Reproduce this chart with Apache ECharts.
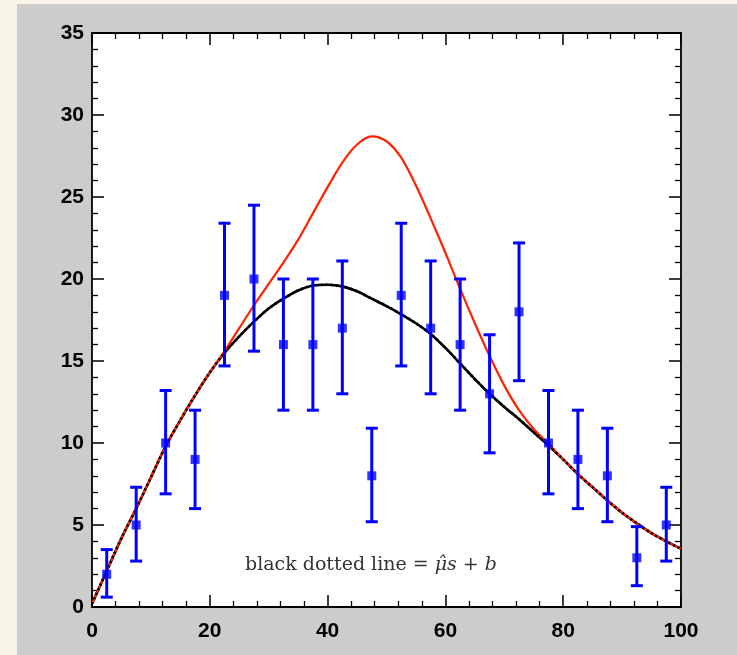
<!DOCTYPE html>
<html>
<head>
<meta charset="utf-8">
<script src="https://cdn.jsdelivr.net/npm/echarts@6/dist/echarts.min.js"></script>
<style>
  html, body { margin: 0; padding: 0; background: #f8f4e8; }
  #panel { position: absolute; left: 17px; top: 4px; width: 720px; height: 651px; background: #cccccc; }
  #chart { position: absolute; left: 0; top: 0; width: 737px; height: 655px; }
</style>
</head>
<body>
<div id="panel"></div>
<div id="chart"></div>
<script>
// ---- data ----
const binCenters = [2.5, 7.5, 12.5, 17.5, 22.5, 27.5, 32.5, 37.5, 42.5, 47.5, 52.5, 57.5, 62.5, 67.5, 72.5, 77.5, 82.5, 87.5, 92.5, 97.5];
const counts     = [2, 5, 10, 9, 19, 20, 16, 16, 17, 8, 19, 17, 16, 13, 18, 10, 9, 8, 3, 5];
const errLow     = [0.6, 2.8, 6.9, 6.0, 14.7, 15.6, 12.0, 12.0, 13.0, 5.2, 14.7, 13.0, 12.0, 9.4, 13.8, 6.9, 6.0, 5.2, 1.3, 2.8];
const errHigh    = [3.5, 7.3, 13.2, 12.0, 23.4, 24.5, 20.0, 20.0, 21.1, 10.9, 23.4, 21.1, 20.0, 16.6, 22.2, 13.2, 12.0, 10.9, 4.9, 7.3];

const curveX   = [0, 2.5, 5, 7.5, 10, 12.5, 15, 17.5, 20, 22.5, 25, 27.5, 30, 32.5, 35, 37.5, 40, 42.5, 45, 47.5, 50, 52.5, 55, 57.5, 60, 62.5, 65, 67.5, 70, 72.5, 75, 77.5, 80, 82.5, 85, 87.5, 90, 92.5, 95, 97.5, 100];
const blackFit = [0.2, 2.2, 4.2, 6.0, 7.9, 9.8, 11.4, 12.9, 14.3, 15.5, 16.5, 17.4, 18.2, 18.8, 19.3, 19.6, 19.65, 19.55, 19.25, 18.8, 18.35, 17.85, 17.3, 16.65, 15.8, 14.85, 13.9, 13.0, 12.2, 11.45, 10.65, 9.85, 9.0, 8.1, 7.3, 6.5, 5.75, 5.1, 4.5, 4.0, 3.55];
const redFit   = [0.2, 2.2, 4.2, 6.0, 7.9, 9.8, 11.4, 12.9, 14.3, 15.6, 17.0, 18.4, 19.7, 21.0, 22.4, 24.0, 25.6, 27.1, 28.2, 28.7, 28.4, 27.4, 25.7, 23.7, 21.6, 19.4, 17.3, 15.3, 13.5, 12.0, 10.85, 9.95, 9.0, 8.1, 7.3, 6.5, 5.75, 5.1, 4.5, 4.0, 3.55];

const xTicks = [0, 20, 40, 60, 80, 100];
const yTicks = [0, 5, 10, 15, 20, 25, 30, 35];

// ---- build ----
const pts = binCenters.map((x, i) => [x, counts[i]]);
const errs = binCenters.map((x, i) => [x, errLow[i], errHigh[i]]);
const blackPts = curveX.map((x, i) => [x, blackFit[i]]);
const redPts = curveX.map((x, i) => [x, redFit[i]]);

const labelStyle = { color: '#000', fontFamily: '"Liberation Sans", Arial, sans-serif', fontWeight: 'bold', fontSize: 21 };
function axisCommon() {
  return {
    axisLine: { show: true, onZero: false, lineStyle: { color: '#000', width: 1.8 } },
    axisTick: { show: true, inside: true, length: 12, lineStyle: { color: '#000', width: 1.5 } },
    minorTick: { show: true, splitNumber: 5, length: 6, lineStyle: { color: '#000', width: 1.3 } },
    splitLine: { show: false }
  };
}

const chart = echarts.init(document.getElementById('chart'));
chart.setOption({
  animation: false,
  backgroundColor: 'transparent',
  grid: { left: 92, right: 56, top: 33, bottom: 48, show: true, backgroundColor: '#fff', borderWidth: 0 },
  xAxis: [
    Object.assign({ type: 'value', min: xTicks[0], max: xTicks[xTicks.length - 1], interval: 20, position: 'bottom',
      axisLabel: Object.assign({ margin: 14 }, labelStyle) }, axisCommon()),
    Object.assign({ type: 'value', min: xTicks[0], max: xTicks[xTicks.length - 1], interval: 20, position: 'top',
      axisLabel: { show: false } }, axisCommon())
  ],
  yAxis: [
    Object.assign({ type: 'value', min: yTicks[0], max: yTicks[yTicks.length - 1], interval: 5, position: 'left',
      axisLabel: Object.assign({ margin: 8 }, labelStyle) }, axisCommon()),
    Object.assign({ type: 'value', min: yTicks[0], max: yTicks[yTicks.length - 1], interval: 5, position: 'right',
      axisLabel: { show: false } }, axisCommon())
  ],
  series: [
    { type: 'line', data: blackPts, showSymbol: false, smooth: 0.3, lineStyle: { color: '#000', width: 2.6 }, z: 2 },
    { type: 'line', data: redPts, showSymbol: false, smooth: 0.3, lineStyle: { color: '#ff2200', width: 2.2 }, z: 3 },
    { type: 'line', data: blackPts, showSymbol: false, smooth: 0.3, lineStyle: { color: '#000', width: 2.6, type: [2, 3] }, z: 4 },
    {
      type: 'custom', z: 5, data: errs,
      renderItem: function (params, api) {
        const x = api.value(0);
        const lo = api.coord([x, api.value(1)]);
        const hi = api.coord([x, api.value(2)]);
        const cap = 6;
        const st = { stroke: '#0000ff', lineWidth: 3 };
        return { type: 'group', children: [
          { type: 'line', shape: { x1: lo[0], y1: lo[1], x2: hi[0], y2: hi[1] }, style: st },
          { type: 'line', shape: { x1: lo[0] - cap, y1: lo[1], x2: lo[0] + cap, y2: lo[1] }, style: st },
          { type: 'line', shape: { x1: hi[0] - cap, y1: hi[1], x2: hi[0] + cap, y2: hi[1] }, style: st }
        ] };
      }
    },
    { type: 'scatter', data: pts, symbol: 'rect', symbolSize: 9, itemStyle: { color: '#0000ff' }, z: 6 }
  ],
  graphic: [
    { type: 'text', left: 245, top: 556, z: 10,
      style: { text: '{n|black dotted line = }{i|μ\u0302s + b}',
        rich: {
          n: { fontFamily: '"DejaVu Serif", serif', fontSize: 19, fill: '#333' },
          i: { fontFamily: '"DejaVu Serif", serif', fontSize: 19, fontStyle: 'italic', fill: '#333' }
        } } }
  ]
});
</script>
</body>
</html>
